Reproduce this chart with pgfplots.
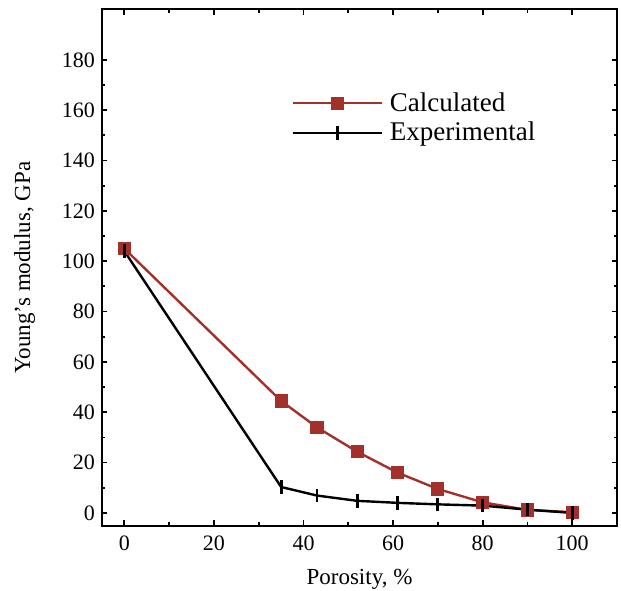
\documentclass[border=0pt]{standalone}
\usepackage{pgfplots}
\pgfplotsset{compat=1.18}
\usepackage{fontspec}
\setmainfont{Liberation Serif}
\definecolor{calcred}{RGB}{163,49,43}

\begin{document}
\begin{tikzpicture}
\path[use as bounding box] (-51pt,-32.5pt) rectangle (259.5pt,262.75pt);
\begin{axis}[
    scale only axis,
    width=257.5pt,
    height=258pt,
    xmin=-5, xmax=110,
    ymin=-5, ymax=200,
    xtick={0,20,40,60,80,100},
    ytick={0,20,40,60,80,100,120,140,160,180},
    minor x tick num=1,
    minor y tick num=1,
    tick align=inside,
    major tick length=2.6pt,
    minor tick length=1.6pt,
    axis line style={line width=1pt},
    every tick/.style={black, line width=0.9pt},
    /pgf/number format/assume math mode=true,
    ticklabel style={font=\fontsize{11}{12}\selectfont},
    xticklabel style={yshift=-1.5pt},
    xlabel={Porosity, \%},
    ylabel={Young’s modulus, GPa},
    label style={font=\fontsize{11.5}{13}\selectfont},
    xlabel style={yshift=-2.5pt},
    ylabel style={yshift=6.5pt},
    legend cell align=left,
    legend style={draw=none, fill=none, at={(0.367,0.848)}, anchor=north west,
        font=\fontsize{13.5}{14.5}\selectfont, inner sep=0pt,
        row sep=0pt, /tikz/every even column/.append style={column sep=0pt},
        nodes={inner xsep=3.5pt}},
    legend image code/.code={%
        \draw[#1, mark repeat=2, mark phase=2] plot coordinates {(0pt,0pt) (22.25pt,0pt) (44.5pt,0pt)};},
]
\addplot[calcred, line width=1.2pt, mark=square*, mark size=2.7pt, mark options={solid, fill=calcred}]
    coordinates {(0,105) (35,44.5) (43,34) (52,24.3) (61,16) (70,9.5) (80,4.2) (90,1.2) (100,0.3)};
\addlegendentry{Calculated}
\addplot[black, line width=1.2pt, mark=|, mark size=3.4pt, mark options={line width=1.4pt}]
    coordinates {(0,104) (35,10.3) (43,6.9) (52,4.8) (61,4) (70,3.4) (80,2.9) (90,1.3) (100,0)};
\addlegendentry{Experimental}
\end{axis}
\end{tikzpicture}
\end{document}
